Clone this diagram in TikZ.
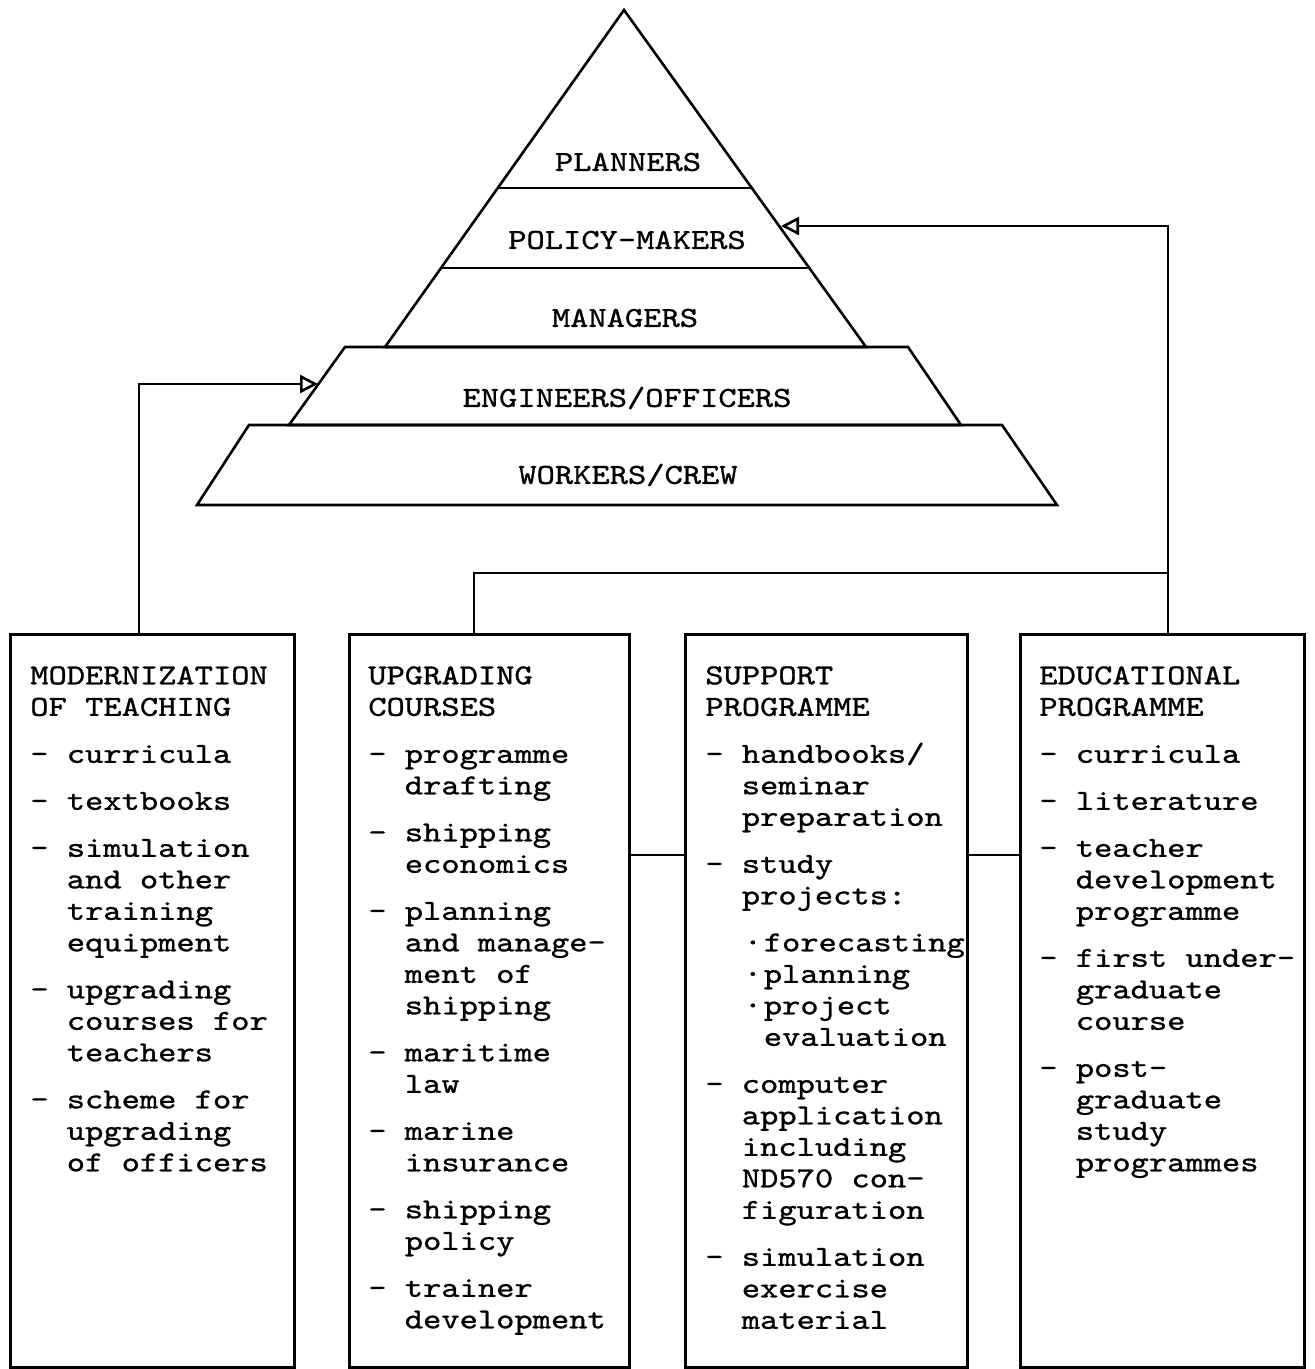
\documentclass[tikz,border=0pt]{standalone}
\usepackage{fontspec}
\usetikzlibrary{arrows.meta,calc}
\newfontfamily\tw[FakeBold=1,FakeStretch=1.2]{lmmono10-regular.otf}
\newcommand\myind{\phantom{- }}
\newcommand\subdot{\makebox[11pt]{\textperiodcentered}}
\begin{document}
\begin{tikzpicture}[x=0.5pt,y=-0.5pt, line width=1.3pt, line join=miter,
  lvl/.style={font=\tw\fontsize{14.5pt}{15.75pt}\selectfont, inner sep=0pt},
  boxsty/.style={draw, line width=1.3pt, anchor=north west, inner sep=0pt, minimum height=366.5pt},
  txt/.style={font=\tw\fontsize{14.5pt}{15.75pt}\selectfont, align=left, anchor=north west, inner sep=0pt},
  arr/.style={-{Triangle[open,length=9pt,width=9pt,line width=1.3pt]}}]
\useasboundingbox (0,0) rectangle (1315,1369);
% pyramid
\coordinate (apex) at (624,10);
\coordinate (tl) at (385,347);
\coordinate (tr) at (866,347);
\draw (apex) -- (tl) -- (tr) -- cycle;
\draw ($(apex)!0.528!(tl)$) -- ($(apex)!0.528!(tr)$);
\draw ($(apex)!0.766!(tl)$) -- ($(apex)!0.766!(tr)$);
\draw (345,347) -- (908,347) -- (961,425) -- (289,425) -- cycle;
\draw (249,425) -- (1002,425) -- (1057,505) -- (197,505) -- cycle;
\node[lvl] (planners) at (628,162) {PLANNERS};
\node[lvl] (policy) at (627,240) {POLICY-MAKERS};
\node[lvl] (managers) at (625,318) {MANAGERS};
\node[lvl] (engineers) at (627,398) {ENGINEERS/OFFICERS};
\node[lvl] (workers) at (628,475) {WORKERS/CREW};
% boxes
\node[boxsty, minimum width=142pt] (b1) at (9,633) {};
\node[boxsty, minimum width=140pt] (b2) at (348,633) {};
\node[boxsty, minimum width=141pt] (b3) at (684,633) {};
\node[boxsty, minimum width=142pt] (b4) at (1019,633) {};
% texts
\node[txt] (t1) at (29,659) {\rule{0pt}{12pt}MODERNIZATION\\OF TEACHING\\[7.75pt]
- curricula\\[7.75pt]
- textbooks\\[7.75pt]
- simulation\\\myind and other\\\myind training\\\myind equipment\\[7.75pt]
- upgrading\\\myind courses for\\\myind teachers\\[7.75pt]
- scheme for\\\myind upgrading\\\myind of officers};
\node[txt] (t2) at (367,659) {\rule{0pt}{12pt}UPGRADING\\COURSES\\[7.75pt]
- programme\\\myind drafting\\[7.75pt]
- shipping\\\myind economics\\[7.75pt]
- planning\\\myind and manage-\\\myind ment of\\\myind shipping\\[7.75pt]
- maritime\\\myind law\\[7.75pt]
- marine\\\myind insurance\\[7.75pt]
- shipping\\\myind policy\\[7.75pt]
- trainer\\\myind development};
\node[txt] (t3) at (704,659) {\rule{0pt}{12pt}SUPPORT\\PROGRAMME\\[7.75pt]
- handbooks/\\\myind seminar\\\myind preparation\\[7.75pt]
- study\\\myind projects:\\[7.75pt]
\myind\subdot forecasting\\\myind\subdot planning\\\myind\subdot project\\\myind\hspace{11pt}evaluation\\[7.75pt]
- computer\\\myind application\\\myind including\\\myind ND570 con-\\\myind figuration\\[7.75pt]
- simulation\\\myind exercise\\\myind material};
\node[txt] (t4) at (1038,659) {\rule{0pt}{12pt}EDUCATIONAL\\PROGRAMME\\[7.75pt]
- curricula\\[7.75pt]
- literature\\[7.75pt]
- teacher\\\myind development\\\myind programme\\[7.75pt]
- first under-\\\myind graduate\\\myind course\\[7.75pt]
- post-\\\myind graduate\\\myind study\\\myind programmes};
% connectors
\coordinate (engL) at (318,384);
\coordinate (pmR) at (781,226);
\coordinate (join) at (1168,573);
\coordinate (hy) at (0,855);
\draw[arr] ([xshift=65pt]b1.north west) |- (engL);
\draw ([xshift=63pt]b2.north west) |- (join);
\draw[arr] ([xshift=74.5pt]b4.north west) |- (pmR);
\draw (b2.east |- hy) -- (b3.west |- hy);
\draw (b3.east |- hy) -- (b4.west |- hy);
\end{tikzpicture}
\end{document}
